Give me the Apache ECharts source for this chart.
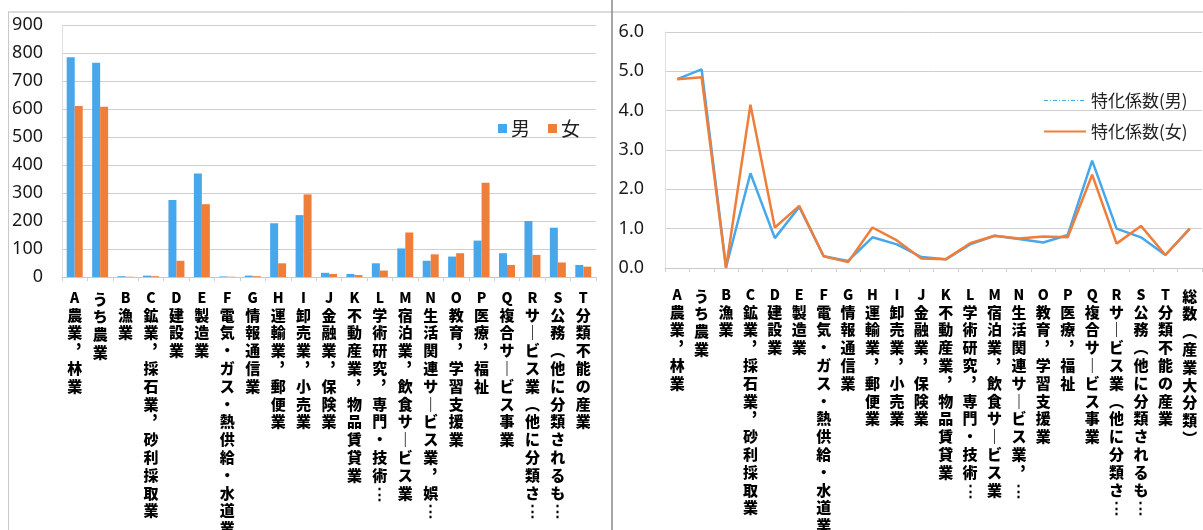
<!DOCTYPE html>
<html>
<head>
<meta charset="utf-8">
<script src="https://cdn.jsdelivr.net/npm/echarts@6/dist/echarts.min.js"></script>
<style>
  html, body { margin: 0; padding: 0; background: #fff; }
  #chart { width: 1203px; height: 530px; }
</style>
</head>
<body>
<div id="chart"></div>
<script>
// Industry categories (labels as shown under each panel)
const barCategories = [
  'A 農業，林業', 'うち農業', 'B 漁業', 'C 鉱業，採石業，砂利採取業', 'D 建設業', 'E 製造業',
  'F 電気・ガス・熱供給・水道業', 'G 情報通信業', 'H 運輸業，郵便業', 'I 卸売業，小売業',
  'J 金融業，保険業', 'K 不動産業，物品賃貸業', 'L 学術研究，専門・技術…', 'M 宿泊業，飲食サービス業',
  'N 生活関連サービス業，娯…', 'O 教育，学習支援業', 'P 医療，福祉', 'Q 複合サービス事業',
  'R サービス業(他に分類さ…', 'S 公務(他に分類されるも…', 'T 分類不能の産業'
];
const lineCategories = [
  'A 農業，林業', 'うち農業', 'B 漁業', 'C 鉱業，採石業，砂利採取業', 'D 建設業', 'E 製造業',
  'F 電気・ガス・熱供給・水道業', 'G 情報通信業', 'H 運輸業，郵便業', 'I 卸売業，小売業',
  'J 金融業，保険業', 'K 不動産業，物品賃貸業', 'L 学術研究，専門・技術…', 'M 宿泊業，飲食サービス業',
  'N 生活関連サービス業，…', 'O 教育，学習支援業', 'P 医療，福祉', 'Q 複合サービス事業',
  'R サービス業(他に分類さ…', 'S 公務(他に分類されるも…', 'T 分類不能の産業', '総数(産業大分類)'
];

// Employed persons by sex
const maleCounts   = [785, 765, 3, 5, 275, 370, 2, 5, 192, 221, 15, 11, 49, 102, 58, 73, 130, 85, 200, 176, 43];
const femaleCounts = [611, 608, 1, 3, 58, 260, 1, 3, 49, 295, 11, 7, 23, 159, 81, 85, 337, 43, 79, 52, 37];

// Specialization coefficients
const maleIndex   = [4.80, 5.05, 0.02, 2.41, 0.76, 1.55, 0.30, 0.18, 0.78, 0.60, 0.28, 0.22, 0.60, 0.82, 0.74, 0.65, 0.84, 2.73, 1.00, 0.78, 0.33, 1.00];
const femaleIndex = [4.80, 4.85, 0.00, 4.15, 1.03, 1.58, 0.30, 0.15, 1.03, 0.70, 0.24, 0.22, 0.63, 0.82, 0.75, 0.80, 0.78, 2.37, 0.62, 1.07, 0.33, 1.00];

const barTicks = { min: 0, max: 900, step: 100 };
const lineTicks = { min: 0, max: 6, step: 1 };

const BLUE = '#47A7EA';
const ORANGE = '#EF7E3B';

// Stack characters top-to-bottom (tategaki), using vertical glyph forms for punctuation.
// A leading Latin section letter gets a shorter line than the CJK characters.
const verticalForms = { '，': '︐', '、': '︑', 'ー': '｜', '(': '︵', ')': '︶', '（': '︵', '）': '︶', '…': '⋮' };
function stackVertical(text) {
  let head = '';
  let body = text;
  const m = text.match(/^([A-Z]) (.*)$/);
  if (m) { head = '{lat|' + m[1] + '}\n'; body = m[2]; }
  return head + Array.from(body).map(ch => verticalForms[ch] || ch).join('\n');
}

const catLabel = (margin) => ({
  interval: 0,
  margin: margin,
  fontFamily: '"Noto Sans CJK JP", sans-serif',
  fontWeight: 900,
  fontSize: 15,
  lineHeight: 17.8,
  color: '#000',
  verticalAlign: 'top',
  formatter: stackVertical,
  rich: {
    lat: {
      fontFamily: '"Noto Sans CJK JP", sans-serif',
      fontWeight: 900, fontSize: 14, lineHeight: 16, color: '#000'
    }
  }
});

const chart = echarts.init(document.getElementById('chart'), null, { renderer: 'canvas' });

chart.setOption({
  animation: false,
  backgroundColor: '#fff',
  grid: [
    { left: 62, top: 25, width: 534, height: 252, outerBoundsMode: 'none', containLabel: false },
    { left: 665, top: 32, width: 537, height: 236, outerBoundsMode: 'none', containLabel: false }
  ],
  legend: [
    {
      data: ['男', '女'],
      left: 493, top: 114,
      icon: 'rect', itemWidth: 9, itemHeight: 9, itemGap: 18,
      textStyle: { fontFamily: '"Noto Sans CJK JP", sans-serif', fontSize: 19, color: '#222', padding: [0, 0, 0, -1] }
    },
    {
      data: [
        { name: '特化係数(男)', lineStyle: { type: [4, 2, 1, 2], width: 1.2 }, itemStyle: { opacity: 0 } },
        { name: '特化係数(女)', itemStyle: { opacity: 0 } }
      ],
      orient: 'vertical',
      left: 1038, top: 87,
      itemWidth: 42, itemHeight: 12, itemGap: 14,
      textStyle: { fontFamily: '"Noto Sans CJK JP", sans-serif', fontSize: 17, color: '#222' }
    }
  ],
  xAxis: [
    {
      type: 'category', gridIndex: 0, data: barCategories,
      axisLine: { lineStyle: { color: '#c8c8c8' } },
      axisTick: { show: true, length: 4, lineStyle: { color: '#d0d0d0' } },
      axisLabel: catLabel(13)
    },
    {
      type: 'category', gridIndex: 1, data: lineCategories,
      axisLine: { lineStyle: { color: '#c8c8c8' } },
      axisTick: { show: true, length: 4, lineStyle: { color: '#d0d0d0' } },
      axisLabel: catLabel(19)
    }
  ],
  yAxis: [
    {
      type: 'value', gridIndex: 0,
      min: barTicks.min, max: barTicks.max, interval: barTicks.step,
      axisLine: { show: true, lineStyle: { color: '#e0e0e0' } },
      splitLine: { lineStyle: { color: '#cfcfcf' } },
      axisLabel: { margin: 19, fontFamily: '"Noto Sans", sans-serif', fontSize: 18, color: '#1a1a1a' }
    },
    {
      type: 'value', gridIndex: 1,
      min: lineTicks.min, max: lineTicks.max, interval: lineTicks.step,
      axisLine: { show: true, lineStyle: { color: '#e0e0e0' } },
      splitLine: { lineStyle: { color: '#cfcfcf' } },
      axisLabel: {
        margin: 21, fontFamily: '"Noto Sans", sans-serif', fontSize: 18, color: '#1a1a1a',
        formatter: v => v.toFixed(1)
      }
    }
  ],
  series: [
    {
      name: '男', type: 'bar', xAxisIndex: 0, yAxisIndex: 0, data: maleCounts,
      barWidth: 8, barGap: '0%', itemStyle: { color: BLUE }
    },
    {
      name: '女', type: 'bar', xAxisIndex: 0, yAxisIndex: 0, data: femaleCounts,
      barWidth: 8, barGap: '0%', itemStyle: { color: ORANGE }
    },
    {
      name: '特化係数(男)', type: 'line', xAxisIndex: 1, yAxisIndex: 1, data: maleIndex,
      symbol: 'none', lineStyle: { color: BLUE, width: 2.5 }, itemStyle: { color: BLUE }
    },
    {
      name: '特化係数(女)', type: 'line', xAxisIndex: 1, yAxisIndex: 1, data: femaleIndex,
      symbol: 'none', lineStyle: { color: ORANGE, width: 2.5 }, itemStyle: { color: ORANGE }
    }
  ],
  graphic: [
    // panel frames
    { type: 'line', shape: { x1: 8, y1: 12, x2: 1203, y2: 12 }, style: { stroke: '#b8b8b8', lineWidth: 1 }, silent: true },
    { type: 'line', shape: { x1: 8.5, y1: 12, x2: 8.5, y2: 530 }, style: { stroke: '#c8c8c8', lineWidth: 1 }, silent: true },
    { type: 'line', shape: { x1: 612, y1: 0, x2: 612, y2: 530 }, style: { stroke: '#8a8a8a', lineWidth: 1.5 }, silent: true }
  ]
});
</script>
</body>
</html>
